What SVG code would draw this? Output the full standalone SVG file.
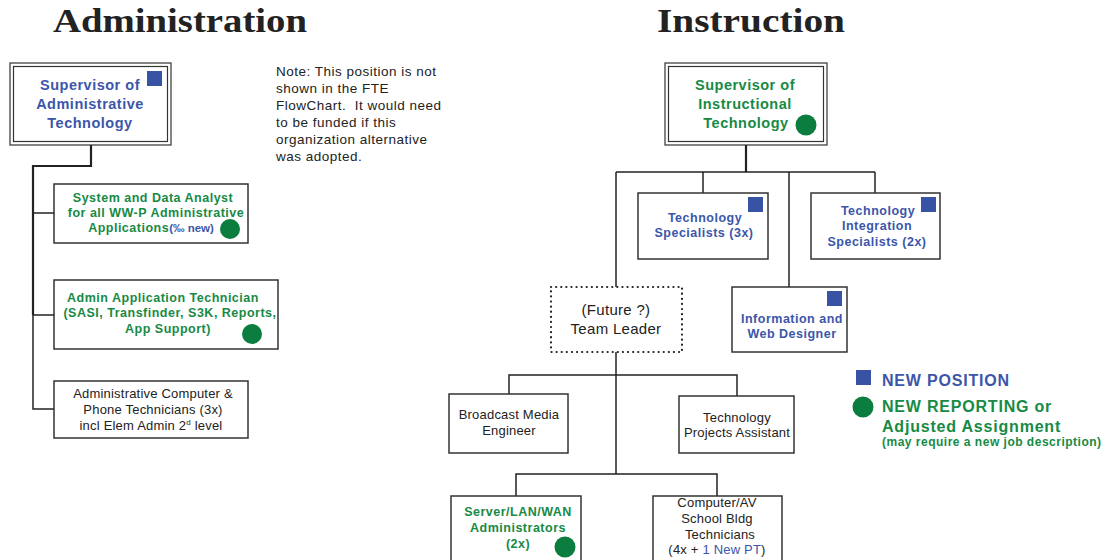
<svg xmlns="http://www.w3.org/2000/svg" width="1115" height="560" viewBox="0 0 1115 560">
<style>
.title{font-family:"Liberation Serif","DejaVu Serif",serif;font-weight:bold;font-size:34px;fill:#222}
.box{fill:#fff;stroke:#333;stroke-width:1.5}
.dbl{fill:none;stroke:#333;stroke-width:1.2}
.dot{fill:#fff;stroke:#222;stroke-width:2.2;stroke-dasharray:0.1 5;stroke-linecap:round}
.sq{fill:#3953a4}
.ci{fill:#0b7d3e}
.bl{font-family:"Liberation Sans",Arial,sans-serif;font-weight:bold;fill:#3b56aa;text-anchor:middle}
.gr{font-family:"Liberation Sans",Arial,sans-serif;font-weight:bold;fill:#178a45;text-anchor:middle}
.bk{font-family:"Liberation Sans",Arial,sans-serif;fill:#222;text-anchor:middle}
.note{font-family:"Liberation Sans",Arial,sans-serif;fill:#222;font-size:13.5px;letter-spacing:0.5px}
.b14{font-size:14.5px;letter-spacing:0.5px}
.b11{font-size:12.5px;letter-spacing:0.5px}
.r12{font-size:13px;letter-spacing:0.2px}
.leg{font-size:16px;letter-spacing:0.8px;text-anchor:start}
.conn line,.conn polyline{stroke:#222;fill:none;stroke-width:1.5}
</style>
<text class="title" x="180" y="32" text-anchor="middle" textLength="254" lengthAdjust="spacingAndGlyphs">Administration</text>
<text class="title" x="751" y="32" text-anchor="middle" textLength="188" lengthAdjust="spacingAndGlyphs">Instruction</text>

<g class="conn">
<polyline points="91,145 91,166 33,166 33,315" style="stroke-width:2.2"/>
<polyline points="33,315 33,409 54,409"/>
<line x1="33" y1="213" x2="54" y2="213"/>
<line x1="33" y1="315" x2="54" y2="315"/>
<line x1="746" y1="145" x2="746" y2="172" style="stroke-width:2.2"/>
<line x1="616" y1="172" x2="875" y2="172"/>
<line x1="616" y1="172" x2="616" y2="287"/>
<line x1="703" y1="172" x2="703" y2="193"/>
<line x1="789" y1="172" x2="789" y2="287"/>
<line x1="875" y1="172" x2="875" y2="193"/>
<line x1="616" y1="352" x2="616" y2="474"/>
<polyline points="509,394 509,375 737,375 737,396"/>
<polyline points="516,496 516,474 717,474 717,496"/>
</g>

<g id="sup-admin">
<rect class="dbl" x="10" y="63" width="161" height="82"/>
<rect class="dbl" x="13.5" y="66.5" width="154" height="75"/>
<rect class="sq" x="147" y="71" width="15" height="15"/>
<text class="bl b14" x="90" y="90">Supervisor of</text>
<text class="bl b14" x="90" y="109">Administrative</text>
<text class="bl b14" x="90" y="128">Technology</text>
</g>

<g id="note">
<text class="note" x="276" y="76">Note: This position is not</text>
<text class="note" x="276" y="93">shown in the FTE</text>
<text class="note" x="276" y="110">FlowChart.&#160; It would need</text>
<text class="note" x="276" y="127">to be funded if this</text>
<text class="note" x="276" y="144">organization alternative</text>
<text class="note" x="276" y="161">was adopted.</text>
</g>

<g id="analyst">
<rect class="box" x="54" y="184" width="194" height="59"/>
<text class="gr b11" x="153" y="202">System and Data Analyst</text>
<text class="gr b11" x="156" y="217">for all WW-P Administrative</text>
<text class="gr b11" x="151" y="232">Applications<tspan style="fill:#3b56aa;letter-spacing:0;font-size:11.5px">(‰ new)</tspan></text>
<circle class="ci" cx="230" cy="229" r="10"/>
</g>

<g id="app-tech">
<rect class="box" x="54" y="280" width="224" height="69"/>
<text class="gr b11" x="163" y="302">Admin Application Technician</text>
<text class="gr b11" x="170" y="317">(SASI, Transfinder, S3K, Reports,</text>
<text class="gr b11" x="168" y="333">App Support)</text>
<circle class="ci" cx="252" cy="334" r="10"/>
</g>

<g id="phone-tech">
<rect class="box" x="54" y="381" width="194" height="57"/>
<text class="bk r12" x="153" y="398">Administrative Computer &amp;</text>
<text class="bk r12" x="153" y="414">Phone Technicians (3x)</text>
<text class="bk r12" x="151" y="430">incl Elem Admin 2<tspan dy="-5" style="font-size:8px">d</tspan><tspan dy="5"> level</tspan></text>
</g>

<g id="sup-instr">
<rect class="dbl" x="665" y="63" width="162" height="82"/>
<rect class="dbl" x="668.5" y="66.5" width="155" height="75"/>
<text class="gr b14" x="745" y="90">Supervisor of</text>
<text class="gr b14" x="745" y="109">Instructional</text>
<text class="gr b14" x="746" y="128">Technology</text>
<circle class="ci" cx="806" cy="125" r="10.5"/>
</g>

<g id="tech-spec">
<rect class="box" x="638" y="193" width="130" height="66"/>
<rect class="sq" x="748" y="197" width="15" height="15"/>
<text class="bl b11" x="705" y="222">Technology</text>
<text class="bl b11" x="704" y="237">Specialists (3x)</text>
</g>

<g id="tech-int">
<rect class="box" x="811" y="193" width="129" height="66"/>
<rect class="sq" x="921" y="197" width="15" height="15"/>
<text class="bl b11" x="878" y="215">Technology</text>
<text class="bl b11" x="877" y="230">Integration</text>
<text class="bl b11" x="877" y="246">Specialists (2x)</text>
</g>

<g id="info-web">
<rect class="box" x="732" y="287" width="115" height="65"/>
<rect class="sq" x="827" y="291" width="15" height="15"/>
<text class="bl b11" x="792" y="323">Information and</text>
<text class="bl b11" x="792" y="338">Web Designer</text>
</g>

<g id="team-leader">
<rect class="dot" x="551" y="287" width="131" height="65"/>
<text class="bk" style="font-size:15px;letter-spacing:0.3px" x="616" y="315">(Future ?)</text>
<text class="bk" style="font-size:15px;letter-spacing:0.3px" x="616" y="334">Team Leader</text>
</g>

<g id="broadcast">
<rect class="box" x="449" y="394" width="119" height="59"/>
<text class="bk r12" x="509" y="419">Broadcast Media</text>
<text class="bk r12" x="509" y="435">Engineer</text>
</g>

<g id="projects">
<rect class="box" x="679" y="396" width="115" height="57"/>
<text class="bk r12" x="737" y="422">Technology</text>
<text class="bk r12" x="737" y="437">Projects Assistant</text>
</g>

<g id="server">
<rect class="box" x="451" y="496" width="130" height="70"/>
<text class="gr b11" x="518" y="516">Server/LAN/WAN</text>
<text class="gr b11" x="518" y="532">Administrators</text>
<text class="gr b11" x="518" y="548">(2x)</text>
<circle class="ci" cx="565" cy="547" r="10.5"/>
</g>

<g id="computer-av">
<rect class="box" x="653" y="496" width="129" height="70"/>
<text class="bk r12" x="717" y="507">Computer/AV</text>
<text class="bk r12" x="717" y="523">School Bldg</text>
<text class="bk r12" x="720" y="539">Technicians</text>
<text class="bk r12" x="717" y="554">(4x + <tspan style="fill:#3b56aa">1 New PT</tspan>)</text>
</g>

<g id="legend">
<rect class="sq" x="856" y="370" width="15" height="15"/>
<text class="bl leg" x="882" y="386">NEW POSITION</text>
<circle class="ci" cx="863" cy="407" r="10.5"/>
<text class="gr leg" x="882" y="412">NEW REPORTING or</text>
<text class="gr leg" x="882" y="432">Adjusted Assignment</text>
<text class="gr" style="font-size:12px;letter-spacing:0.5px;text-anchor:start" x="882" y="446">(may require a new job description)</text>
</g>
</svg>
